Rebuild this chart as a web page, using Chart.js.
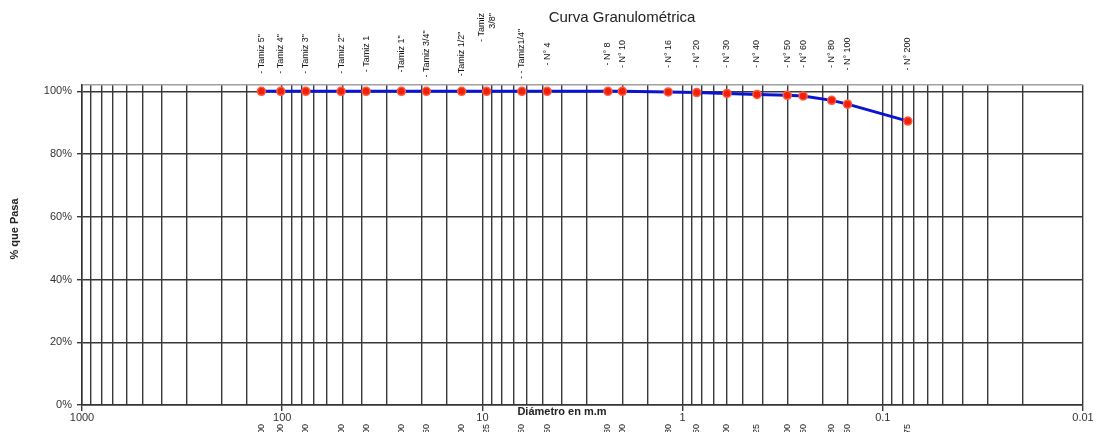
<!DOCTYPE html>
<html><head><meta charset="utf-8">
<script src="https://cdn.jsdelivr.net/npm/chart.js@4"></script>
<style>html,body{margin:0;padding:0;background:#fff}#wrap{width:1104px;height:432px;position:relative}</style>
</head><body><div id="wrap"><canvas id="c"></canvas></div>
<script>
const chartTitle = "Curva Granulométrica";
const xAxisTitle = "Diámetro en m.m";
const yAxisTitle = "% que Pasa";
const sieveLabels = ["- Tamiz 5\"", "- Tamiz 4\"", "- Tamiz 3\"", "- Tamiz 2\"", "- Tamiz 1", "-Tamiz 1\"", "- Tamiz 3/4\"", "-Tamiz 1/2\"", "- Tamiz\n3/8\"", "- - Tamiz1/4\"", "- N° 4", "- N° 8", "- N° 10", "- N° 16", "- N° 20", "- N° 30", "- N° 40", "- N° 50", "- N° 60", "- N° 80", "- N° 100", "- N° 200"];
const sieveSizes = [127, 101.6, 76.2, 50.8, 38.1, 25.4, 19.05, 12.7, 9.525, 6.35, 4.75, 2.36, 2.0, 1.18, 0.85, 0.6, 0.425, 0.3, 0.25, 0.18, 0.15, 0.075];
const percentPassing = [100, 100, 100, 100, 100, 100, 100, 100, 100, 100, 100, 100, 100, 99.8, 99.6, 99.3, 99.0, 98.7, 98.5, 97.1, 95.9, 90.5];
const sizeLabels = ["127.000", "101.600", "76.200", "50.800", "38.100", "25.400", "19.050", "12.700", "9.525", "6.350", "4.750", "2.360", "2.000", "1.180", "0.850", "0.600", "0.425", "0.300", "0.250", "0.180", "0.150", "0.075"];
const xTickValues = [1000, 100, 10, 1, 0.1, 0.01];
const xTickLabels = ["1000", "100", "10", "1", "0.1", "0.01"];
const yTickValues = [0, 20, 40, 60, 80, 100];

const FONT = "'Liberation Sans', Arial, sans-serif";

const textPlugin = {
  id: 'texts',
  afterDraw(chart) {
    const ctx = chart.ctx;
    const xs = chart.scales.x;
    ctx.save();
    ctx.fillStyle = '#222';
    ctx.font = "15px " + FONT;
    ctx.textAlign = 'center';
    ctx.textBaseline = 'middle';
    ctx.fillText(chartTitle, 622, 18);
    ctx.font = "bold 11px " + FONT;
    ctx.fillText(xAxisTitle, 562, 412);
    ctx.save();
    ctx.translate(15, 229);
    ctx.rotate(-Math.PI / 2);
    ctx.fillText(yAxisTitle, 0, 0);
    ctx.restore();
    ctx.font = "9px " + FONT;
    ctx.fillStyle = '#111';
    sieveLabels.forEach((lab, i) => {
      const x = xs.getPixelForValue(sieveSizes[i]);
      const lines = lab.split('\n');
      lines.forEach((ln, k) => {
        ctx.save();
        const dx = (k - (lines.length - 1) / 2) * 11;
        if (lines.length > 1) {
          ctx.translate(x + dx, 13);
          ctx.rotate(-Math.PI / 2);
          ctx.textAlign = 'right';
        } else {
          ctx.translate(x, 54);
          ctx.rotate(-Math.PI / 2);
          ctx.textAlign = 'center';
        }
        ctx.textBaseline = 'middle';
        ctx.fillText(ln, 0, 0);
        ctx.restore();
      });
    });
    sizeLabels.forEach((lab, i) => {
      const x = xs.getPixelForValue(sieveSizes[i]);
      ctx.save();
      ctx.translate(x, 424);
      ctx.rotate(-Math.PI / 2);
      ctx.textAlign = 'right';
      ctx.textBaseline = 'middle';
      ctx.fillText(lab, 0, 0);
      ctx.restore();
    });
    ctx.restore();
  }
};

new Chart(document.getElementById('c'), {
  type: 'line',
  data: {
    datasets: [{
      data: sieveSizes.map((s, i) => ({ x: s, y: percentPassing[i] })),
      borderColor: '#0a14d2',
      borderWidth: 3,
      pointRadius: 4,
      pointBackgroundColor: '#f0200a',
      pointBorderColor: '#ff5a3c',
      pointBorderWidth: 1.5,
      tension: 0,
      clip: false
    }]
  },
  plugins: [textPlugin],
  options: {
    responsive: true,
    maintainAspectRatio: false,
    animation: false,
    layout: { padding: { top: 85, right: 21, left: 0, bottom: 0 } },
    plugins: { legend: { display: false }, tooltip: { enabled: false }, title: { display: false } },
    scales: {
      x: {
        type: 'logarithmic',
        reverse: true,
        min: 0.01,
        max: 1000,
        afterFit(s) { s.height = 27; },
        border: { display: true, color: '#333', width: 1.5 },
        grid: {
          color: '#383838',
          lineWidth: 1.4,
          tickLength: 6,
          tickColor: (c) => (c.tick && c.tick.major) ? '#383838' : 'rgba(0,0,0,0)'
        },
        ticks: {
          autoSkip: false,
          maxRotation: 0,
          minRotation: 0,
          padding: 0,
          color: '#333',
          font: { size: 11, family: FONT },
          callback(v) {
            const idx = xTickValues.findIndex(t => Math.abs(Math.log10(t) - Math.log10(v)) < 1e-6);
            return idx >= 0 ? xTickLabels[idx] : '';
          }
        }
      },
      y: {
        min: 0,
        max: 102,
        afterFit(s) { s.width = 82; },
        afterBuildTicks(s) { s.ticks = yTickValues.map(v => ({ value: v })).concat([{ value: 102 }]); },
        border: { display: true, color: '#333', width: 1.5 },
        grid: {
          color: (c) => (c.tick && c.tick.value > 100) ? '#a0a0a0' : '#383838',
          lineWidth: 1.4,
          tickLength: 5,
          tickColor: (c) => (c.tick && c.tick.value > 100) ? 'rgba(0,0,0,0)' : '#383838'
        },
        ticks: {
          padding: 5,
          color: '#333',
          font: { size: 11, family: FONT },
          callback(v) { return yTickValues.includes(v) ? v + '%' : ''; }
        }
      }
    }
  }
});
</script>
</body></html>
